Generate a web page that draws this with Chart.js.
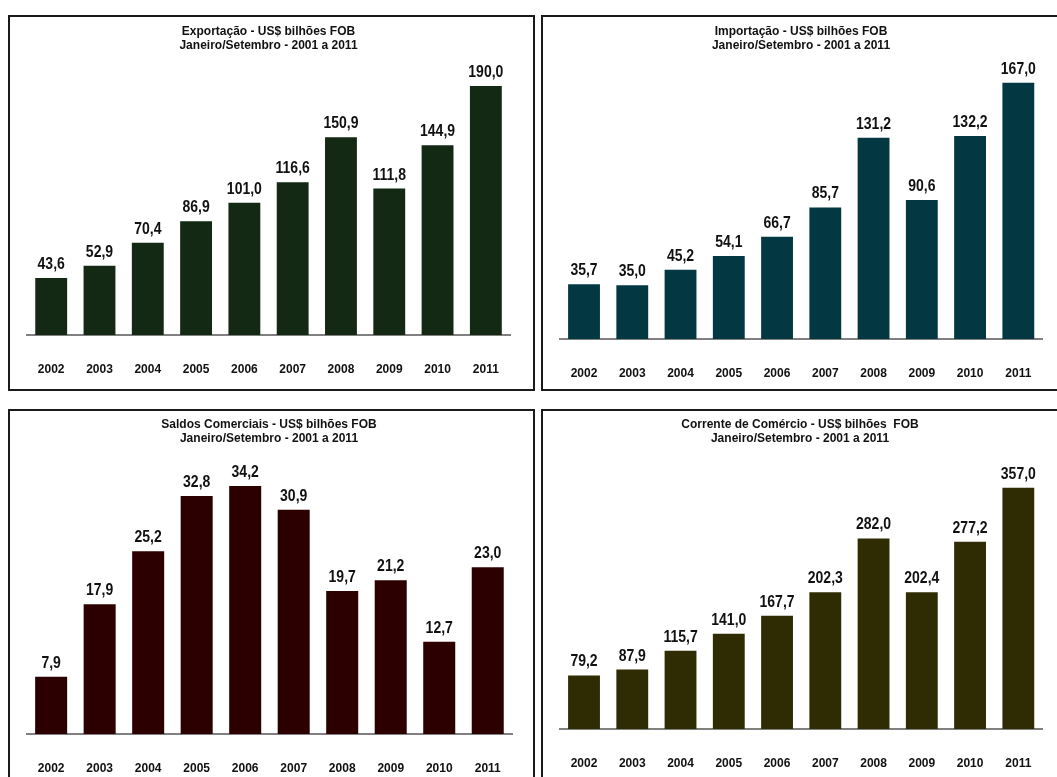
<!DOCTYPE html>
<html>
<head>
<meta charset="utf-8">
<script src="https://cdn.jsdelivr.net/npm/chart.js@4.4.1/dist/chart.umd.min.js"></script>
<style>
  html, body { margin: 0; padding: 0; background: #ffffff; width: 1057px; height: 777px; overflow: hidden; }
  .panel { position: absolute; box-sizing: border-box; border: 2px solid #1a1a1a; background: #fff; }
  .panel canvas { display: block; }
</style>
</head>
<body>
<div class="panel" id="p1" style="left:8px; top:15px; width:527px; height:376px;"><canvas id="c1" width="523" height="372"></canvas></div>
<div class="panel" id="p2" style="left:541px; top:15px; width:520px; height:376px;"><canvas id="c2" width="516" height="372"></canvas></div>
<div class="panel" id="p3" style="left:8px; top:409px; width:527px; height:376px;"><canvas id="c3" width="523" height="372"></canvas></div>
<div class="panel" id="p4" style="left:541px; top:409px; width:520px; height:376px;"><canvas id="c4" width="516" height="372"></canvas></div>
<script>
// ---- Data ----
const years = ['2002', '2003', '2004', '2005', '2006', '2007', '2008', '2009', '2010', '2011'];
const exportacao = [43.6, 52.9, 70.4, 86.9, 101.0, 116.6, 150.9, 111.8, 144.9, 190.0];
const importacao = [35.7, 35.0, 45.2, 54.1, 66.7, 85.7, 131.2, 90.6, 132.2, 167.0];
const saldos = [7.9, 17.9, 25.2, 32.8, 34.2, 30.9, 19.7, 21.2, 12.7, 23.0];
const corrente = [79.2, 87.9, 115.7, 141.0, 167.7, 202.3, 282.0, 202.4, 277.2, 357.0];

const titleExport = ['Exportação - US$ bilhões FOB', 'Janeiro/Setembro - 2001 a 2011'];
const titleImport = ['Importação - US$ bilhões FOB', 'Janeiro/Setembro - 2001 a 2011'];
const titleSaldos = ['Saldos Comerciais - US$ bilhões FOB', 'Janeiro/Setembro - 2001 a 2011'];
const titleCorrente = ['Corrente de Comércio - US$ bilhões  FOB', 'Janeiro/Setembro - 2001 a 2011'];

const FONT = "'Liberation Sans', Arial, Helvetica, sans-serif";

const valueLabels = {
  id: 'valueLabels',
  afterDatasetsDraw(chart) {
    const ctx = chart.ctx;
    chart.data.datasets.forEach((ds, di) => {
      chart.getDatasetMeta(di).data.forEach((bar, i) => {
        const v = ds.data[i];
        ctx.save();
        ctx.font = 'bold 14px ' + FONT;
        ctx.fillStyle = '#111111';
        ctx.textAlign = 'center';
        ctx.textBaseline = 'alphabetic';
        ctx.translate(bar.x, bar.y - 9);
        ctx.scale(1, 1.15);
        ctx.fillText(v.toFixed(1).replace('.', ','), 0, 0);
        ctx.restore();
      });
    });
  }
};

function makeChart(id, title, values, color, yMax, pad) {
  return new Chart(document.getElementById(id), {
    type: 'bar',
    data: {
      labels: years,
      datasets: [{ data: values, backgroundColor: color, borderWidth: 0, barPercentage: 0.66, categoryPercentage: 1.0 }]
    },
    options: {
      responsive: false,
      animation: false,
      devicePixelRatio: 1,
      layout: { padding: { left: pad.left, right: pad.right, top: 0, bottom: pad.bottom } },
      plugins: {
        legend: { display: false },
        tooltip: { enabled: false },
        title: {
          display: true,
          text: title,
          color: '#111111',
          font: { family: FONT, size: 12, weight: 'bold', lineHeight: 1.15 },
          padding: { top: pad.titleTop, bottom: 9 }
        }
      },
      scales: {
        x: {
          grid: { display: false, drawTicks: false, tickLength: 0 },
          border: { display: true, color: '#808080', width: 2 },
          ticks: { color: '#111111', font: { family: FONT, size: 12, weight: 'bold' }, padding: 27, maxRotation: 0, autoSkip: false },
          afterFit: (s) => { s.height = 45; }
        },
        y: {
          display: false,
          min: 0,
          max: yMax
        }
      }
    },
    plugins: [valueLabels]
  });
}

makeChart('c1', titleExport, exportacao, '#132913', 209, { left: 17, right: 23, bottom: 9, titleTop: 7.6 });
makeChart('c2', titleImport, importacao, '#033843', 181, { left: 15, right: 15, bottom: 5, titleTop: 7.6 });
makeChart('c3', titleSaldos, saldos, '#2d0000', 38.5, { left: 16, right: 21, bottom: 4, titleTop: 7.1 });
makeChart('c4', titleCorrente, corrente, '#2f2c04', 406, { left: 14, right: 16, bottom: 9, titleTop: 7.1 });
</script>
</body>
</html>
